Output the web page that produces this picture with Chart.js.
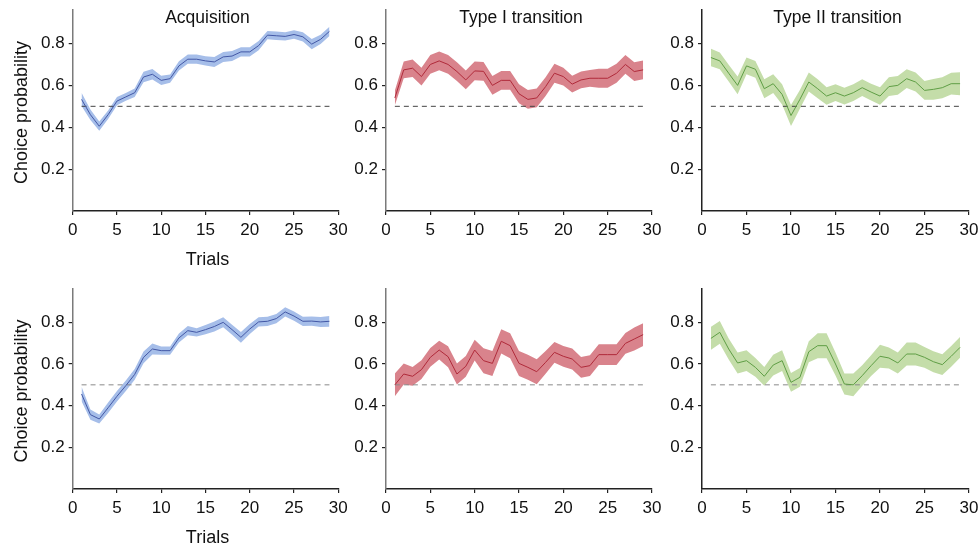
<!DOCTYPE html>
<html>
<head>
<meta charset="utf-8">
<script src="https://cdn.jsdelivr.net/npm/chart.js@4.4.1/dist/chart.umd.min.js"></script>
<style>
  body { margin: 0; background: #fff; }
  #wrap { position: relative; width: 979px; height: 547px; }
  #wrap canvas { position: absolute; left: 0; top: 0; }
</style>
</head>
<body>
<div id="wrap"></div>
<script>
const trials = [1, 2, 3, 4, 5, 6, 7, 8, 9, 10, 11, 12, 13, 14, 15, 16, 17, 18, 19, 20, 21, 22, 23, 24, 25, 26, 27, 28, 29];
const xTicks = [0, 5, 10, 15, 20, 25, 30];
const yTicks = [0.2, 0.4, 0.6, 0.8];
const chance = 0.5;
const titles = ['Acquisition', 'Type I transition', 'Type II transition'];

// top row
const acqTop = [0.533, 0.46, 0.405, 0.46, 0.525, 0.545, 0.565, 0.64, 0.653, 0.624, 0.632, 0.693, 0.725, 0.725, 0.717, 0.712, 0.736, 0.74, 0.76, 0.76, 0.79, 0.84, 0.837, 0.834, 0.843, 0.832, 0.797, 0.82, 0.858];
const acqTopSe = [0.032, 0.025, 0.022, 0.02, 0.02, 0.018, 0.02, 0.025, 0.025, 0.022, 0.02, 0.022, 0.022, 0.022, 0.022, 0.024, 0.024, 0.024, 0.022, 0.022, 0.022, 0.02, 0.02, 0.02, 0.02, 0.022, 0.024, 0.022, 0.022];
const type1Top = [0.54, 0.674, 0.682, 0.642, 0.70, 0.717, 0.70, 0.666, 0.626, 0.669, 0.667, 0.60, 0.624, 0.624, 0.56, 0.533, 0.54, 0.594, 0.658, 0.642, 0.606, 0.626, 0.634, 0.634, 0.634, 0.658, 0.70, 0.666, 0.674];
const type1TopSe = [0.035, 0.04, 0.042, 0.042, 0.045, 0.045, 0.045, 0.045, 0.045, 0.045, 0.045, 0.045, 0.045, 0.045, 0.045, 0.045, 0.045, 0.045, 0.045, 0.042, 0.04, 0.04, 0.04, 0.045, 0.045, 0.045, 0.045, 0.045, 0.045];
const type2Top = [0.733, 0.717, 0.658, 0.60, 0.693, 0.677, 0.584, 0.608, 0.557, 0.456, 0.533, 0.616, 0.584, 0.549, 0.565, 0.549, 0.565, 0.589, 0.568, 0.549, 0.594, 0.60, 0.632, 0.616, 0.576, 0.581, 0.589, 0.608, 0.608];
const type2TopSe = [0.042, 0.04, 0.04, 0.042, 0.04, 0.04, 0.045, 0.045, 0.048, 0.05, 0.045, 0.045, 0.045, 0.042, 0.04, 0.04, 0.04, 0.04, 0.04, 0.042, 0.045, 0.045, 0.045, 0.045, 0.045, 0.05, 0.05, 0.052, 0.055];

// bottom row
const acqBottom = [0.456, 0.357, 0.336, 0.39, 0.445, 0.496, 0.55, 0.632, 0.672, 0.664, 0.664, 0.725, 0.76, 0.752, 0.765, 0.78, 0.80, 0.765, 0.728, 0.768, 0.802, 0.805, 0.818, 0.85, 0.83, 0.805, 0.806, 0.802, 0.805];
const acqBottomSe = [0.035, 0.025, 0.022, 0.025, 0.025, 0.025, 0.026, 0.028, 0.026, 0.02, 0.02, 0.022, 0.022, 0.02, 0.022, 0.024, 0.024, 0.024, 0.026, 0.024, 0.022, 0.022, 0.022, 0.022, 0.022, 0.022, 0.022, 0.024, 0.026];
const type1Bottom = [0.50, 0.552, 0.541, 0.573, 0.632, 0.667, 0.635, 0.552, 0.589, 0.667, 0.616, 0.603, 0.709, 0.688, 0.603, 0.584, 0.563, 0.608, 0.656, 0.637, 0.624, 0.584, 0.592, 0.645, 0.645, 0.645, 0.699, 0.72, 0.741];
const type1BottomSe = [0.055, 0.05, 0.045, 0.045, 0.045, 0.045, 0.05, 0.05, 0.05, 0.05, 0.06, 0.06, 0.058, 0.06, 0.06, 0.06, 0.06, 0.055, 0.05, 0.05, 0.05, 0.05, 0.05, 0.05, 0.05, 0.05, 0.05, 0.055, 0.055];
const type2Bottom = [0.723, 0.752, 0.672, 0.605, 0.616, 0.584, 0.541, 0.595, 0.616, 0.512, 0.536, 0.659, 0.688, 0.688, 0.60, 0.504, 0.50, 0.544, 0.592, 0.637, 0.629, 0.605, 0.648, 0.648, 0.632, 0.611, 0.597, 0.637, 0.68];
const type2BottomSe = [0.055, 0.055, 0.05, 0.05, 0.05, 0.045, 0.045, 0.05, 0.05, 0.045, 0.045, 0.05, 0.06, 0.06, 0.055, 0.05, 0.055, 0.05, 0.05, 0.055, 0.05, 0.05, 0.055, 0.055, 0.05, 0.05, 0.05, 0.05, 0.05];

const blue = { band: '#a6bee9', line: '#4358a6' };
const red = { band: '#d9838c', line: '#b02a3a' };
const green = { band: '#c4dda9', line: '#5f9e45' };

const FONT = '"Liberation Sans", Arial, Helvetica, sans-serif';
const colsX = [[72.7, 338.3], [386, 652], [702, 969]];
const rowsY = [[10, 211], [289, 489]];
const yW = 40, xH = 40;

const panels = [
  { row: 0, col: 0, mean: acqTop, se: acqTopSe, c: blue },
  { row: 0, col: 1, mean: type1Top, se: type1TopSe, c: red },
  { row: 0, col: 2, mean: type2Top, se: type2TopSe, c: green },
  { row: 1, col: 0, mean: acqBottom, se: acqBottomSe, c: blue },
  { row: 1, col: 1, mean: type1Bottom, se: type1BottomSe, c: red },
  { row: 1, col: 2, mean: type2Bottom, se: type2BottomSe, c: green }
];

// panel titles and axis titles, placed relative to the plot area
const textPlugin = {
  id: 'panelText',
  afterDraw(chart, args, opts) {
    const { ctx, chartArea: a } = chart;
    const cx = (a.left + a.right) / 2;
    ctx.save();
    ctx.fillStyle = '#111';
    ctx.textAlign = 'center';
    ctx.textBaseline = 'middle';
    ctx.font = '17.5px ' + FONT;
    if (opts.title) ctx.fillText(opts.title, cx + 2, a.top + 8);
    if (opts.axisTitles) {
      ctx.font = '18px ' + FONT;
      ctx.fillText('Trials', cx + 2, a.bottom + 49);
      ctx.translate(22, (a.top + a.bottom) / 2 + 2);
      ctx.rotate(-Math.PI / 2);
      ctx.fillText('Choice probability', 0, 0);
    }
    ctx.restore();
  }
};

const wrap = document.getElementById('wrap');

panels.forEach(p => {
  const canvas = document.createElement('canvas');
  canvas.width = 979;
  canvas.height = 547;
  wrap.appendChild(canvas);

  const [l, r] = colsX[p.col];
  const [t, b] = rowsY[p.row];
  const upper = trials.map((x, i) => ({ x, y: p.mean[i] + p.se[i] }));
  const lower = trials.map((x, i) => ({ x, y: p.mean[i] - p.se[i] }));
  const mean = trials.map((x, i) => ({ x, y: p.mean[i] }));
  const dash = [{ x: trials[0], y: chance }, { x: trials[trials.length - 1], y: chance }];
  const yAxisColor = p.col === 2 ? '#222' : '#7a7a7a';

  new Chart(canvas, {
    type: 'line',
    data: {
      datasets: [
        { data: mean, borderColor: p.c.line, borderWidth: 1, pointRadius: 0, fill: false, tension: 0 },
        { data: dash, borderColor: p.row === 0 ? '#444' : '#8a8a8a', borderWidth: 1, borderDash: [5, 4], pointRadius: 0, fill: false },
        { data: upper, borderWidth: 0, pointRadius: 0, backgroundColor: p.c.band, fill: '+1', tension: 0 },
        { data: lower, borderWidth: 0, pointRadius: 0, fill: false, tension: 0 }
      ]
    },
    options: {
      responsive: false,
      animation: false,
      events: [],
      layout: { padding: { left: l - yW, top: t, right: 979 - r, bottom: 547 - b - xH } },
      plugins: {
        legend: { display: false },
        tooltip: { enabled: false },
        panelText: { title: p.row === 0 ? titles[p.col] : null, axisTitles: p.col === 0 }
      },
      scales: {
        x: {
          type: 'linear',
          min: 0,
          max: 30,
          afterBuildTicks: s => { s.ticks = xTicks.map(v => ({ value: v })); },
          afterFit: s => { s.height = xH; s.paddingLeft = 0; s.paddingRight = 0; },
          ticks: { color: '#111', font: { family: FONT, size: 17 }, padding: 5, maxRotation: 0, callback: v => String(v) },
          grid: { drawOnChartArea: false, drawTicks: true, tickLength: 4, color: '#222', lineWidth: 1.2 },
          border: { display: true, color: '#222', width: 1.5 }
        },
        y: {
          min: 0,
          max: 0.96,
          afterBuildTicks: s => { s.ticks = yTicks.map(v => ({ value: v })); },
          afterFit: s => { s.width = yW; s.paddingTop = 0; s.paddingBottom = 0; },
          ticks: { color: '#111', font: { family: FONT, size: 17 }, padding: 4, callback: v => v.toFixed(1) },
          grid: { drawOnChartArea: false, drawTicks: true, tickLength: 4, color: '#222', lineWidth: 1.2 },
          border: { display: true, color: yAxisColor, width: 1.5 }
        }
      }
    },
    plugins: [textPlugin]
  });
});
</script>
</body>
</html>
